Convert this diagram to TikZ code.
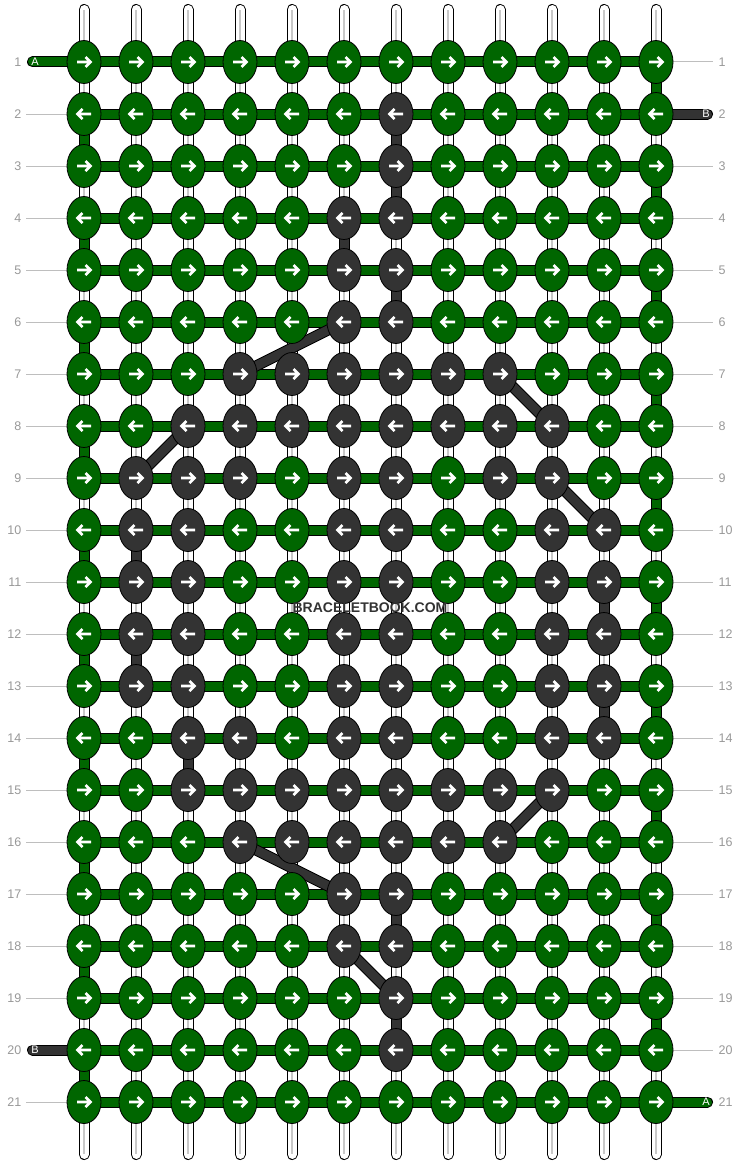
\documentclass[tikz,border=0pt]{standalone}
\usepackage{fontspec}
\setmainfont{Liberation Sans}
\usetikzlibrary{shapes.geometric}
\pgfdeclarelayer{bglayer}
\pgfdeclarelayer{striplayer}
\pgfdeclarelayer{horizlayer}
\pgfdeclarelayer{diaglayer}
\pgfsetlayers{bglayer,striplayer,horizlayer,diaglayer,main}
\definecolor{kgreen}{RGB}{0,102,0}
\definecolor{kdark}{RGB}{51,51,51}
\definecolor{kline}{RGB}{200,200,200}
\definecolor{kguide}{RGB}{190,190,190}
\definecolor{klabel}{RGB}{153,153,153}
\makeatletter
\newcommand\testdark[2]{\edef\kn@tmp{\noexpand\in@{-#1-}{-#2-}}\kn@tmp
  \ifin@\def\kfill{kdark}\else\def\kfill{kgreen}\fi}
\newcommand\vtype[3]{\def\vfill{white}%
  \ifnum#2=1 \ifodd#1 \else\def\vfill{kgreen}\fi\fi
  \ifnum#2=12 \ifodd#1 \def\vfill{kgreen}\fi\fi
  \edef\kn@tmp{\noexpand\in@{-#2-}{-#3-}}\kn@tmp
  \ifin@\def\vfill{kdark}\fi}
\makeatother
\def\whitename{white}
\tikzset{
  knot/.style={ellipse, draw=black, line width=0.8pt, minimum width=34pt, minimum height=43pt, inner sep=0pt},
  arw/.style={white, line width=2.6pt, line cap=butt, line join=miter},
  outerband/.style={black, line width=11pt},
  innerband/.style={line width=9pt},
  guide/.style={kguide, line width=1pt},
  lbl/.style={text=klabel, font=\fontsize{12.5}{14}\selectfont, inner sep=0pt},
  stublbl/.style={text=white, font=\fontsize{11}{12}\selectfont, inner sep=0pt},
  wmark/.style={text=kdark, font=\fontsize{14}{16}\selectfont\bfseries, inner sep=0pt}
}
\begin{document}
\begin{tikzpicture}[x=1pt,y=-1pt]
\begin{pgfonlayer}{bglayer}
\fill[white] (0,0) rectangle (740,1164);
\end{pgfonlayer}
\useasboundingbox (0,0) rectangle (740,1164);

% knots
\foreach \p/\ds in {1/0, 2/7, 3/7, 4/6-7, 5/6-7, 6/6-7, 7/4-5-6-7-8-9, 8/3-4-5-6-7-8-9-10,
  9/2-3-4-6-7-9-10, 10/2-3-6-7-10-11, 11/2-3-6-7-10-11, 12/2-3-6-7-10-11, 13/2-3-6-7-10-11,
  14/3-4-6-7-10-11, 15/3-4-5-6-7-8-9-10, 16/4-5-6-7-8-9, 17/6-7, 18/6-7, 19/7, 20/7, 21/0}{
  \ifodd\p \def\dir{1}\else\def\dir{-1}\fi
  \foreach \q in {1,...,12}{
    \testdark{\q}{\ds}
    \node[knot, fill=\kfill] (n-\p-\q) at ({84+52*(\q-1)},{62+52*(\p-1)}) {};
    \begin{scope}[shift={(n-\p-\q.center)}, xscale=\dir]
      \draw[arw] (-7,0) -- (6,0) (1.5,-5) -- (6.5,0) -- (1.5,5);
    \end{scope}
  }
}

% top and bottom thread ends
\begin{pgfonlayer}{striplayer}
\foreach \q in {1,...,12}{
  \coordinate (top-\q) at ({84+52*(\q-1)},9.5);
  \coordinate (bot-\q) at ({84+52*(\q-1)},1154.5);
  \draw[outerband, line cap=round] (top-\q) -- (n-1-\q.center);
  \draw[innerband, white, line cap=round] (top-\q) -- (n-1-\q.center);
  \draw[kline, line width=1.6pt] ([yshift=-1pt]top-\q) -- (n-1-\q.center);
  \draw[outerband, line cap=round] (bot-\q) -- (n-21-\q.center);
  \draw[innerband, white, line cap=round] (bot-\q) -- (n-21-\q.center);
  \draw[kline, line width=1.6pt] ([yshift=1pt]bot-\q) -- (n-21-\q.center);
}
% vertical segments between rows
\foreach \p/\vs in {1/0, 2/7, 3/7, 4/6, 5/7, 6/0, 7/0, 8/0, 9/0, 10/2, 11/11, 12/2, 13/11,
  14/3, 15/0, 16/0, 17/7, 18/0, 19/7, 20/0}{
  \pgfmathtruncatemacro\pn{\p+1}
  \foreach \q in {1,...,12}{
    \vtype{\p}{\q}{\vs}
    \draw[outerband] (n-\p-\q.center) -- (n-\pn-\q.center);
    \draw[innerband, draw=\vfill] (n-\p-\q.center) -- (n-\pn-\q.center);
    \ifx\vfill\whitename
      \draw[kline, line width=1.6pt] (n-\p-\q.center) -- (n-\pn-\q.center);
    \fi
  }
}
\end{pgfonlayer}

% horizontal thread
\begin{pgfonlayer}{horizlayer}
\foreach \p in {1,...,21}{
  \foreach \q in {1,...,11}{
    \pgfmathtruncatemacro\qn{\q+1}
    \draw[outerband] (n-\p-\q.center) -- (n-\p-\qn.center);
    \draw[innerband, kgreen] (n-\p-\q.center) -- (n-\p-\qn.center);
  }
}
\coordinate (sA1) at (32.5,62);
\coordinate (sB2) at (707.5,114);
\coordinate (sB20) at (32.5,1050);
\coordinate (sA21) at (707.5,1102);
\draw[outerband, line cap=round] (sA1) -- (n-1-1.center);
\draw[innerband, kgreen, line cap=round] (sA1) -- (n-1-1.center);
\draw[outerband, line cap=round] (sB2) -- (n-2-12.center);
\draw[innerband, kdark, line cap=round] (sB2) -- (n-2-12.center);
\draw[outerband, line cap=round] (sB20) -- (n-20-1.center);
\draw[innerband, kdark, line cap=round] (sB20) -- (n-20-1.center);
\draw[outerband, line cap=round] (sA21) -- (n-21-12.center);
\draw[innerband, kgreen, line cap=round] (sA21) -- (n-21-12.center);
\end{pgfonlayer}

% diagonal thread moves
\begin{pgfonlayer}{diaglayer}
\foreach \a/\b in {6-6/7-4, 8-3/9-2, 7-9/8-10, 9-10/10-11, 15-10/16-9, 16-4/17-6, 18-6/19-7}{
  \draw[outerband] (n-\a.center) -- (n-\b.center);
  \draw[innerband, kdark] (n-\a.center) -- (n-\b.center);
}
\end{pgfonlayer}

% row numbers and guide lines
\foreach \p in {1,...,21}{
  \node[lbl, anchor=east] (ll-\p) at (21.5,{62+52*(\p-1)}) {\p};
  \node[lbl, anchor=west] (lr-\p) at (718.5,{62+52*(\p-1)}) {\p};
  \begin{pgfonlayer}{bglayer}
  \ifnum\p=1 \else\ifnum\p=20 \else
    \draw[guide, shorten <=4.5pt] (ll-\p.east) -- (n-\p-1.west);
  \fi\fi
  \ifnum\p=2 \else\ifnum\p=21 \else
    \draw[guide, shorten >=5.5pt] (n-\p-12.east) -- (lr-\p.west);
  \fi\fi
  \end{pgfonlayer}
}

% thread labels
\node[stublbl] (tA1) at (35,62) {A};
\node[stublbl] (tB2) at (706,114) {B};
\node[stublbl] (tB20) at (35,1050) {B};
\node[stublbl] (tA21) at (706,1102) {A};

% watermark
\node[wmark] (wm) at (370,607.5) {BRACELETBOOK.COM};
\end{tikzpicture}
\end{document}
